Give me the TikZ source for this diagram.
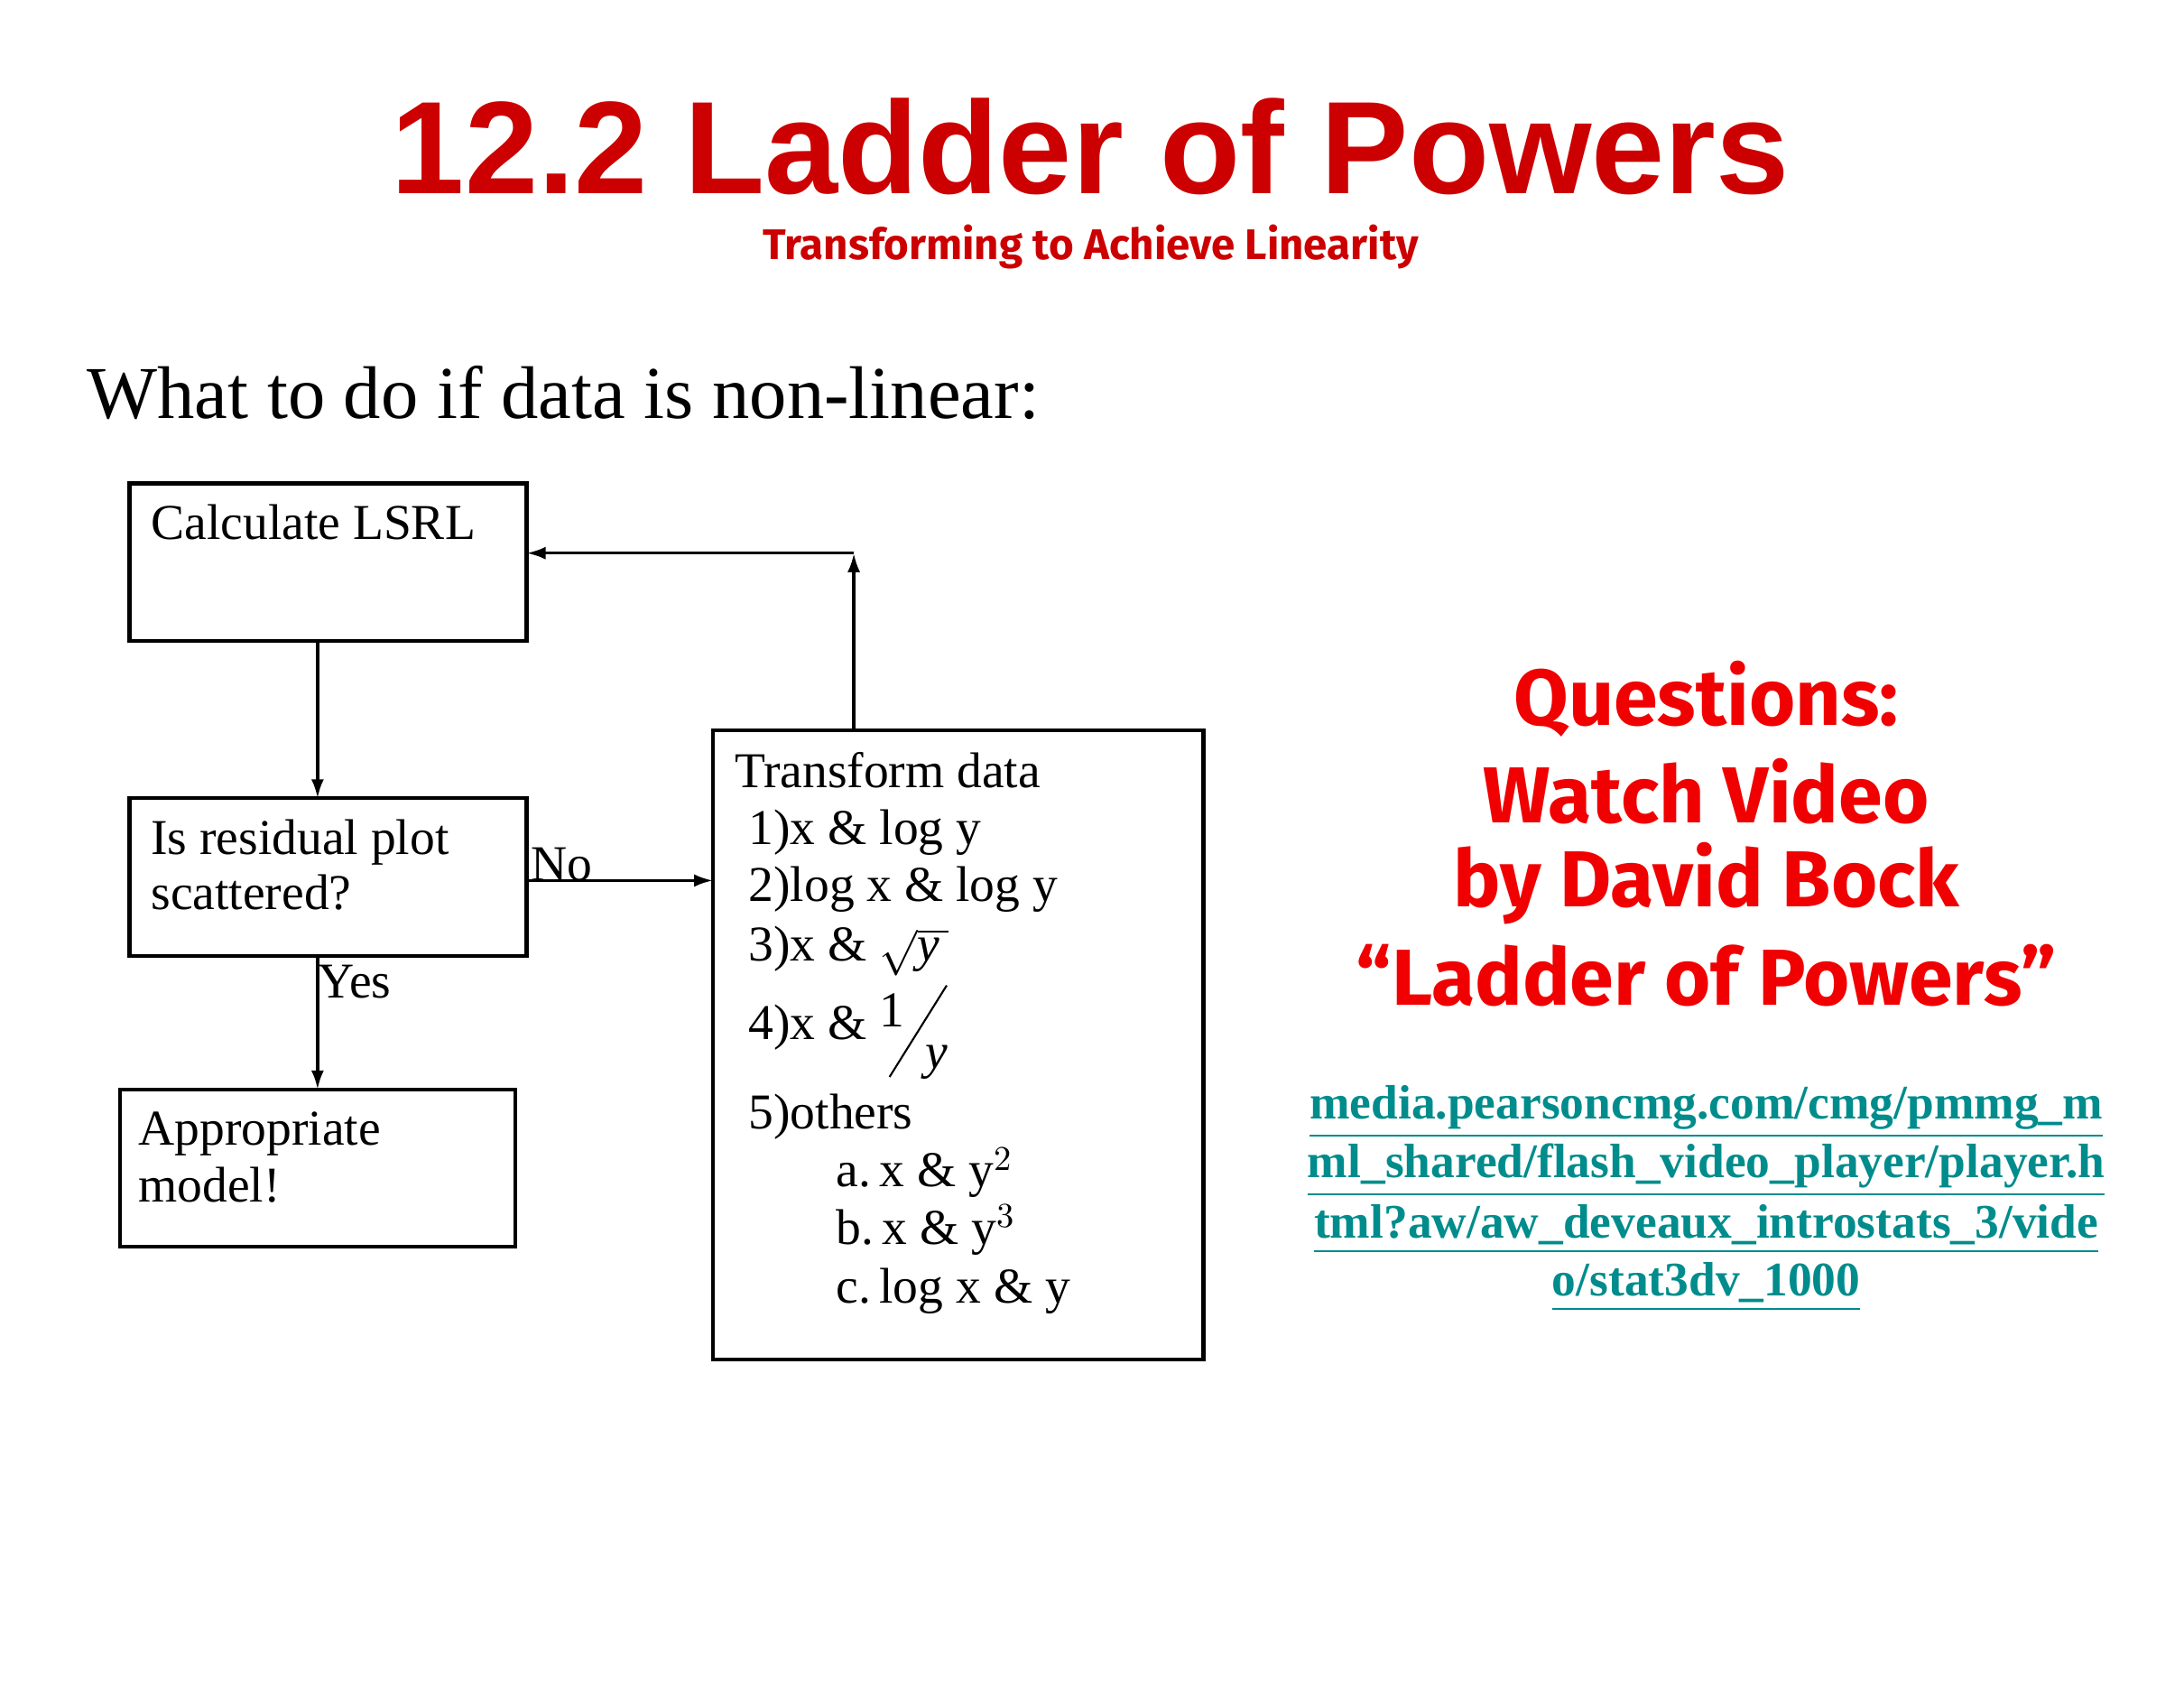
\documentclass[tikz,border=0pt]{standalone}
\usepackage{fontspec}
\usepackage{amsmath}
\setmainfont{Liberation Serif}
\newfontfamily\titlefont{Liberation Sans}
\newfontfamily\comicfont{Fira Sans}
\usetikzlibrary{arrows.meta}
\definecolor{slidered}{RGB}{204,0,0}
\definecolor{brightred}{RGB}{240,0,0}
\definecolor{linkteal}{RGB}{0,140,140}
\tikzset{
  flowbox/.style={draw,line width=1.2pt},
  boxtext/.style={anchor=base west,inner sep=0pt,font=\fontsize{15.8}{18}\selectfont},
  flowarrow/.style={-{Latex[length=6pt,width=4pt]},line width=1pt},
  qtext/.style={font=\comicfont\bfseries\fontsize{25}{30}\selectfont,text=brightred},
  linktext/.style={font=\bfseries\fontsize{15.2}{18}\selectfont,text=linkteal,inner sep=0pt}
}
\begin{document}
\begin{tikzpicture}[x=0.01543cm,y=-0.01543cm]
  \useasboundingbox (0,0) rectangle (1568,1212);

  \node[font=\titlefont\bfseries\fontsize{41.5}{48}\selectfont,text=slidered] (title) at (783,105) {12.2 Ladder of Powers};
  \node[font=\comicfont\bfseries\fontsize{13.5}{16}\selectfont,text=slidered] (subtitle) at (783,177) {Transforming to Achieve Linearity};
  \node[anchor=base west,inner sep=0pt,font=\fontsize{23.5}{28}\selectfont] (heading) at (62,300) {What to do if data is non-linear:};

  % the boxes
  \draw[flowbox] (93,347) rectangle (378,460);
  \coordinate (lsrlS) at (228,460);
  \coordinate (lsrlE) at (378,397);
  \node[boxtext] (lsrl) at (108,387) {Calculate LSRL};

  \draw[flowbox] (93,573) rectangle (378,686);
  \coordinate (residN) at (228,573);
  \coordinate (residS) at (228,686);
  \coordinate (residE) at (378,632);
  \node[boxtext] (resid) at (108,613) {Is residual plot};
  \node[boxtext] (resid2) at (108,653) {scattered?};

  \draw[flowbox] (86,782) rectangle (370,895);
  \coordinate (modelN) at (228,782);
  \node[boxtext] (model) at (99,822) {Appropriate};
  \node[boxtext] (model2) at (99,863) {model!};

  \draw[flowbox] (512,524) rectangle (864,976);
  \coordinate (transW) at (512,632);
  \coordinate (transN) at (613,524);
  \coordinate (corner) at (613,397);
  \node[boxtext] (trans) at (527,565) {Transform data};
  \node[boxtext] (t1) at (537,606) {1)x \& log y};
  \node[boxtext] (t2) at (537,647) {2)log x \& log y};
  \node[boxtext] (t3) at (537,690) {3)x \& $\sqrt{\text{\itshape y\,}}$};
  \node[boxtext] (t4) at (537,746) {4)x \& \raisebox{4pt}{1}\hspace{-5pt}\raisebox{-12pt}{\rotatebox{58}{\rule{34pt}{0.6pt}}}\hspace{-7pt}\raisebox{-9pt}{\itshape y}};
  \node[boxtext] (t5) at (537,810) {5)others};
  \node[boxtext] (t5a) at (600,852) {a.\,x \& y$^2$};
  \node[boxtext] (t5b) at (600,893) {b.\,x \& y$^3$};
  \node[boxtext] (t5c) at (600,935) {c.\,log x \& y};

  % connectors
  \draw[flowarrow] (lsrlS) -- (residN);
  \draw[flowarrow] (residS) -- (modelN);
  \node[boxtext] (yes) at (228,716) {Yes};
  \draw[flowarrow] (residE) -- (transW);
  \node[boxtext] (no) at (381,632) {No};
  \draw[flowarrow] (transN) -- (corner);
  \draw[flowarrow] (corner) -- (lsrlE);

  % right side
  \node[qtext] (q1) at (1225,502) {Questions:};
  \node[qtext] (q2) at (1225,568) {Watch Video};
  \node[qtext] (q3) at (1225,634) {by David Bock};
  \node[qtext] (q4) at (1225,700) {“Ladder of Powers”};
  \node[linktext] (l1) at (1225,798) {\underline{media.pearsoncmg.com/cmg/pmmg\_m}};
  \node[linktext] (l2) at (1225,840) {\underline{ml\_shared/flash\_video\_player/player.h}};
  \node[linktext] (l3) at (1225,882) {\underline{tml?aw/aw\_deveaux\_introstats\_3/vide}};
  \node[linktext] (l4) at (1225,924) {\underline{o/stat3dv\_1000}};
\end{tikzpicture}
\end{document}
